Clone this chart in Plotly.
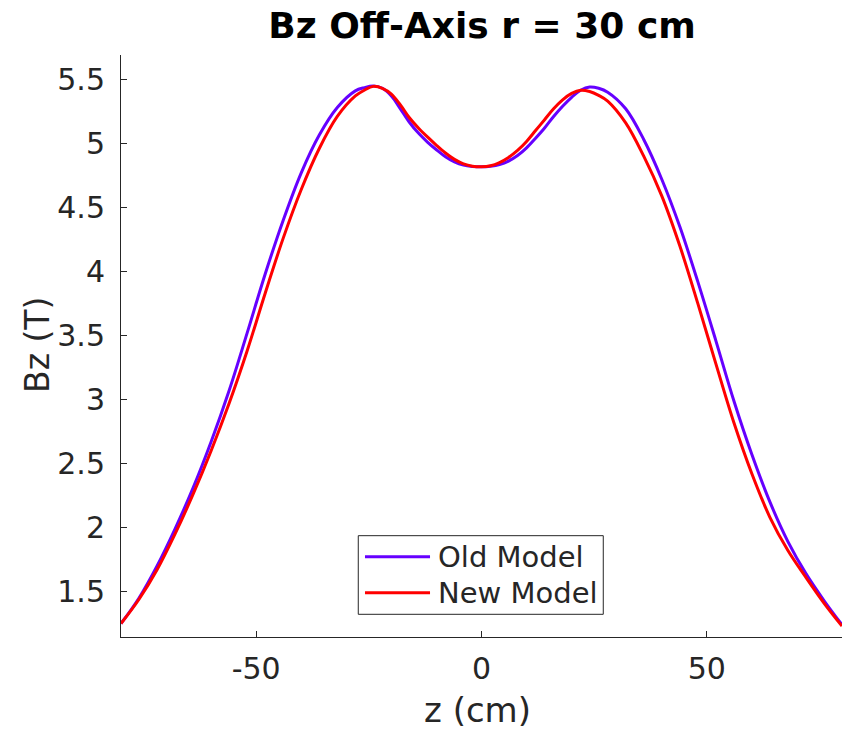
import plotly.graph_objects as go

# Axial position (cm)
z_cm = [-80, -76, -72, -68, -64, -60, -56, -52, -48, -44, -40, -36, -32, -28, -26,
        -24, -22, -20, -18, -16, -14, -12, -10, -8, -6, -4, -2, 0,
        2, 4, 6, 8, 10, 12, 14, 16, 18, 20, 22, 24, 26,
        28, 32, 36, 40, 44, 48, 52, 56, 60, 64, 68, 72, 76, 80]

# Bz at r = 30 cm (T)
bz_old = [1.25, 1.45, 1.70, 1.99, 2.31, 2.67, 3.07, 3.52, 3.98, 4.40, 4.77, 5.065, 5.28, 5.41, 5.435,
          5.448, 5.43, 5.37, 5.27, 5.165, 5.08, 5.01, 4.95, 4.895, 4.855, 4.83, 4.82, 4.817,
          4.822, 4.835, 4.862, 4.905, 4.965, 5.04, 5.12, 5.21, 5.29, 5.36, 5.415, 5.44, 5.43,
          5.40, 5.27, 5.03, 4.72, 4.35, 3.92, 3.46, 2.99, 2.57, 2.20, 1.89, 1.64, 1.43, 1.24]
bz_new = [1.25, 1.44, 1.67, 1.95, 2.26, 2.60, 2.97, 3.38, 3.83, 4.26, 4.64, 4.96, 5.21, 5.37, 5.415,
          5.445, 5.43, 5.385, 5.30, 5.20, 5.12, 5.05, 4.985, 4.925, 4.875, 4.84, 4.822, 4.817,
          4.825, 4.85, 4.89, 4.945, 5.015, 5.10, 5.185, 5.27, 5.34, 5.39, 5.415, 5.405, 5.375,
          5.33, 5.16, 4.90, 4.59, 4.20, 3.75, 3.28, 2.82, 2.42, 2.08, 1.82, 1.61, 1.41, 1.23]

series_names = ["Old Model", "New Model"]
series_colors = ["#6600ff", "#ff0000"]

x_ticks = [-50, 0, 50]
x_tick_text = ["-50", "0", "50"]
y_ticks = [1.5, 2, 2.5, 3, 3.5, 4, 4.5, 5, 5.5]
y_tick_text = ["1.5", "2", "2.5", "3", "3.5", "4", "4.5", "5", "5.5"]

FONT = "DejaVu Sans"
INK = "#262626"

fig = go.Figure()
for name, color, values in zip(series_names, series_colors, [bz_old, bz_new]):
    fig.add_trace(go.Scatter(x=z_cm, y=values, mode="lines", name=name, showlegend=False,
                             line=dict(color=color, width=3, shape="spline", smoothing=1)))

# Boxed legend drawn in paper coordinates (MATLAB-style, long line samples)
legend_box = dict(x0=0.3291, x1=0.6689, y0=0.0390, y1=0.1741)
legend_rows_y = [0.1380, 0.0761]
legend_line_x = (0.3384, 0.4286)
legend_text_x = 0.4369

shapes = [dict(type="rect", xref="paper", yref="paper", layer="above",
               line=dict(color=INK, width=1), fillcolor="white", **legend_box)]
annotations = []
for name, color, ry in zip(series_names, series_colors, legend_rows_y):
    shapes.append(dict(type="line", xref="paper", yref="paper", layer="above",
                       x0=legend_line_x[0], x1=legend_line_x[1], y0=ry, y1=ry,
                       line=dict(color=color, width=3)))
    annotations.append(dict(text=name, xref="paper", yref="paper", x=legend_text_x, y=ry,
                            xanchor="left", yanchor="middle", showarrow=False,
                            font=dict(family=FONT, size=29, color=INK)))

# Axis titles
annotations += [
    dict(text="Bz (T)", xref="paper", yref="paper", x=-0.1165, y=0.5017,
         xanchor="center", yanchor="middle", textangle=-90, showarrow=False,
         font=dict(family=FONT, size=33, color=INK)),
    dict(text="z (cm)", xref="paper", yref="paper", x=0.495, y=-0.1254,
         xanchor="center", yanchor="middle", showarrow=False,
         font=dict(family=FONT, size=34, color=INK)),
]

fig.update_layout(
    width=842, height=729,
    margin=dict(l=121, r=0, t=55, b=92),
    paper_bgcolor="white", plot_bgcolor="white",
    font=dict(family=FONT, color=INK),
    title=dict(text="<b>Bz Off-Axis r = 30 cm</b>", x=0.5725, xanchor="center",
               y=0.965, yanchor="middle", font=dict(family=FONT, size=36, color="black")),
    showlegend=False,
    shapes=shapes,
    annotations=annotations,
)

fig.update_xaxes(
    range=[-80, 80], tickvals=x_ticks, ticktext=x_tick_text, ticks="inside", ticklen=6,
    tickcolor=INK, showline=True, linecolor=INK, linewidth=1, mirror=False,
    showgrid=False, zeroline=False,
    tickfont=dict(family=FONT, size=30, color=INK), ticklabelstandoff=5,
)
fig.update_yaxes(
    range=[1.145, 5.69], tickvals=y_ticks, ticktext=y_tick_text, ticks="inside", ticklen=6,
    tickcolor=INK, showline=True, linecolor=INK, linewidth=1, mirror=False, showgrid=False,
    zeroline=False, tickfont=dict(family=FONT, size=30, color=INK), ticklabelstandoff=9,
)

fig.write_html("out.html")
